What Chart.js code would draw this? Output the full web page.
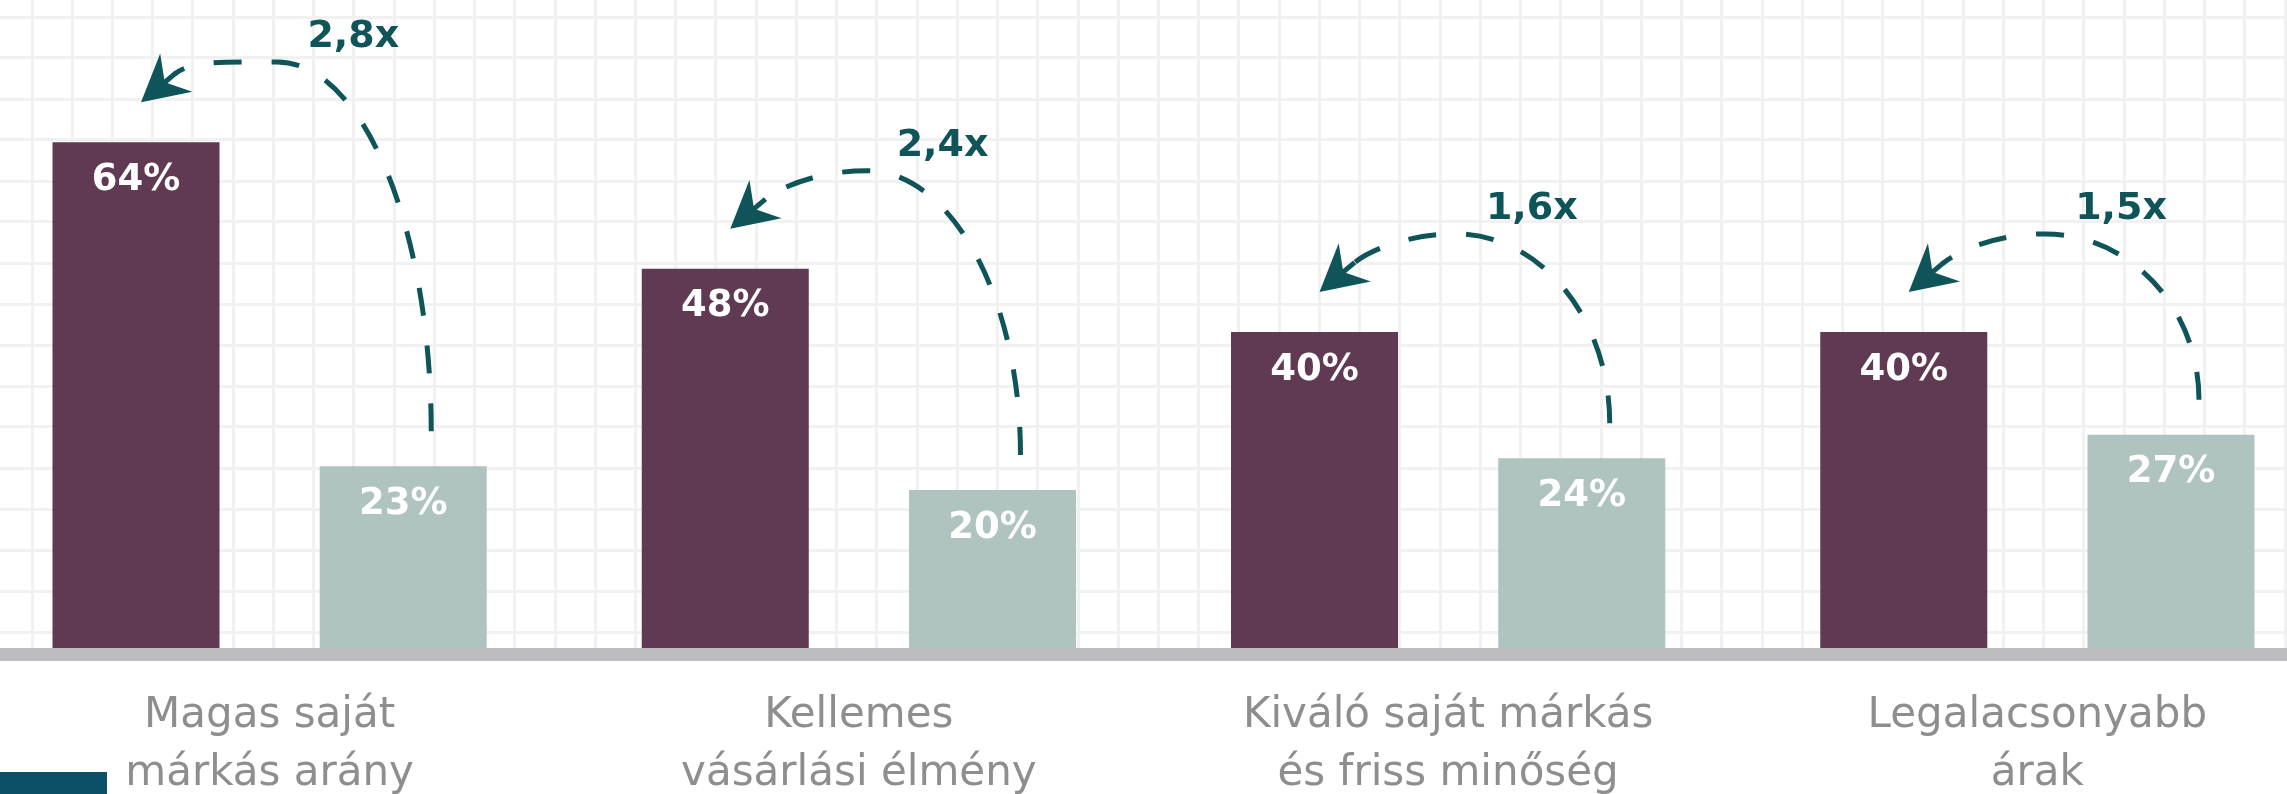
<!DOCTYPE html>
<html lang="hu">
<head>
<meta charset="utf-8">
<title>Saját márka</title>
<script src="https://cdn.jsdelivr.net/npm/chart.js@4.4.1/dist/chart.umd.min.js"></script>
<style>
  html, body { margin: 0; padding: 0; background: #ffffff; overflow: hidden; }
  #wrap { position: absolute; left: -25px; top: 0; width: 2357px; height: 794px; }
  #logo { position: absolute; left: 0; top: 772px; width: 107px; height: 22px; background: #0c5068; }
</style>
</head>
<body>
<div id="wrap"><canvas id="barCanvas"></canvas></div>
<div id="logo"></div>
<script>
// data
var categories = [
    ['Magas saját', 'márkás arány'],
    ['Kellemes', 'vásárlási élmény'],
    ['Kiváló saját márkás', 'és friss minőség'],
    ['Legalacsonyabb', 'árak']
];
var firstValues = [64, 48, 40, 40];
var secondValues = [23, 20, 24, 27];
var ratioLabels = ['2,8x', '2,4x', '1,6x', '1,5x'];

var purple = '#603a52';
var paleTeal = '#afc3c1';
var darkTeal = '#0e5458';
var gridColor = '#f1f1f1';

// white % numbers inside the bars
var valueLabels = {
    id: 'valueLabels',
    afterDatasetsDraw: function (chart) {
        var ctx = chart.ctx;
        ctx.save();
        ctx.font = 'bold 37px "DejaVu Sans"';
        ctx.fillStyle = '#ffffff';
        ctx.textAlign = 'center';
        ctx.textBaseline = 'middle';
        chart.data.datasets.forEach(function (ds, di) {
            chart.getDatasetMeta(di).data.forEach(function (bar, i) {
                ctx.fillText(ds.data[i] + '%', bar.x, bar.y + 38);
            });
        });
        ctx.restore();
    }
};

// dashed curved arrows from the pale bar back to the dark one
var ratioArrows = {
    id: 'ratioArrows',
    afterDatasetsDraw: function (chart) {
        var ctx = chart.ctx;
        var dark = chart.getDatasetMeta(0).data;
        var pale = chart.getDatasetMeta(1).data;
        var ang = 140 * Math.PI / 180;
        var ux = Math.cos(ang), uy = Math.sin(ang);
        var nx = -uy, ny = ux;
        dark.forEach(function (pb, i) {
            var tb = pale[i];
            var S = { x: tb.x + 28, y: tb.y - 35 };
            var T = { x: pb.x + 5, y: pb.y - 40 };
            var P = { x: T.x + 0.47 * (S.x - T.x), y: Math.max(T.y - 58, 62) };
            var B = { x: T.x - ux * 44, y: T.y - uy * 44 };

            ctx.save();
            ctx.strokeStyle = darkTeal;
            ctx.fillStyle = darkTeal;
            ctx.lineWidth = 5;
            ctx.setLineDash([28, 30]);
            ctx.beginPath();
            ctx.ellipse(P.x, S.y, S.x - P.x, S.y - P.y, 0, 0, -Math.PI / 2, true);
            ctx.bezierCurveTo(P.x - 0.45 * (P.x - B.x), P.y, B.x - ux * 22, B.y - uy * 22, B.x, B.y);
            ctx.stroke();

            ctx.setLineDash([]);
            ctx.beginPath();
            ctx.moveTo(T.x - ux * 28, T.y - uy * 28);
            ctx.lineTo(T.x - ux * 46, T.y - uy * 46);
            ctx.stroke();

            ctx.beginPath();
            ctx.moveTo(T.x, T.y);
            ctx.lineTo(T.x - ux * 46 + nx * 25, T.y - uy * 46 + ny * 25);
            ctx.lineTo(T.x - ux * 31, T.y - uy * 31);
            ctx.lineTo(T.x - ux * 46 - nx * 25, T.y - uy * 46 - ny * 25);
            ctx.closePath();
            ctx.fill();

            ctx.font = 'bold 38px "DejaVu Sans"';
            ctx.textAlign = 'left';
            ctx.textBaseline = 'alphabetic';
            ctx.fillText(ratioLabels[i], P.x + 30, P.y - 15);
            ctx.restore();
        });
    }
};

var chartdata = {
    labels: categories,
    datasets: [
        {
            label: 'A',
            backgroundColor: purple,
            data: firstValues
        },
        {
            label: 'B',
            backgroundColor: paleTeal,
            data: secondValues
        }
    ]
};

var barGraph = new Chart(document.getElementById('barCanvas'), {
    type: 'bar',
    data: chartdata,
    plugins: [valueLabels, ratioArrows],
    options: {
        responsive: true,
        maintainAspectRatio: false,
        animation: false,
        layout: { padding: 0 },
        datasets: {
            bar: { categoryPercentage: 0.907, barPercentage: 0.625 }
        },
        plugins: {
            legend: { display: false },
            tooltip: { enabled: false }
        },
        scales: {
            x: {
                grid: { display: false, drawTicks: false },
                border: { display: true, color: '#bdbdc1', width: 13 },
                ticks: {
                    color: '#8e8e90',
                    font: { family: 'DejaVu Sans', size: 42, lineHeight: '58px' },
                    padding: 33,
                    maxRotation: 0,
                    autoSkip: false
                },
                afterFit: function (axis) { axis.height = 139.5; }
            },
            y: {
                display: false,
                min: -0.8225,
                max: 82
            },
            gx: {
                type: 'linear',
                position: 'top',
                min: 0,
                max: 2357,
                ticks: { display: false },
                border: { display: false },
                grid: { color: gridColor, lineWidth: 3, drawTicks: false },
                afterBuildTicks: function (axis) {
                    var t = [];
                    for (var v = 57.5; v < 2357; v += 40.95) t.push({ value: v });
                    axis.ticks = t;
                },
                afterFit: function (axis) { axis.height = 0; }
            },
            gy: {
                type: 'linear',
                position: 'left',
                min: 0,
                max: 654.5,
                ticks: { display: false },
                border: { display: false },
                grid: { color: gridColor, lineWidth: 3, drawTicks: false },
                afterBuildTicks: function (axis) {
                    var t = [];
                    for (var v = 22.5; v < 654.5; v += 41) t.push({ value: v });
                    axis.ticks = t;
                },
                afterFit: function (axis) { axis.width = 0; }
            }
        }
    }
});
</script>
</body>
</html>
